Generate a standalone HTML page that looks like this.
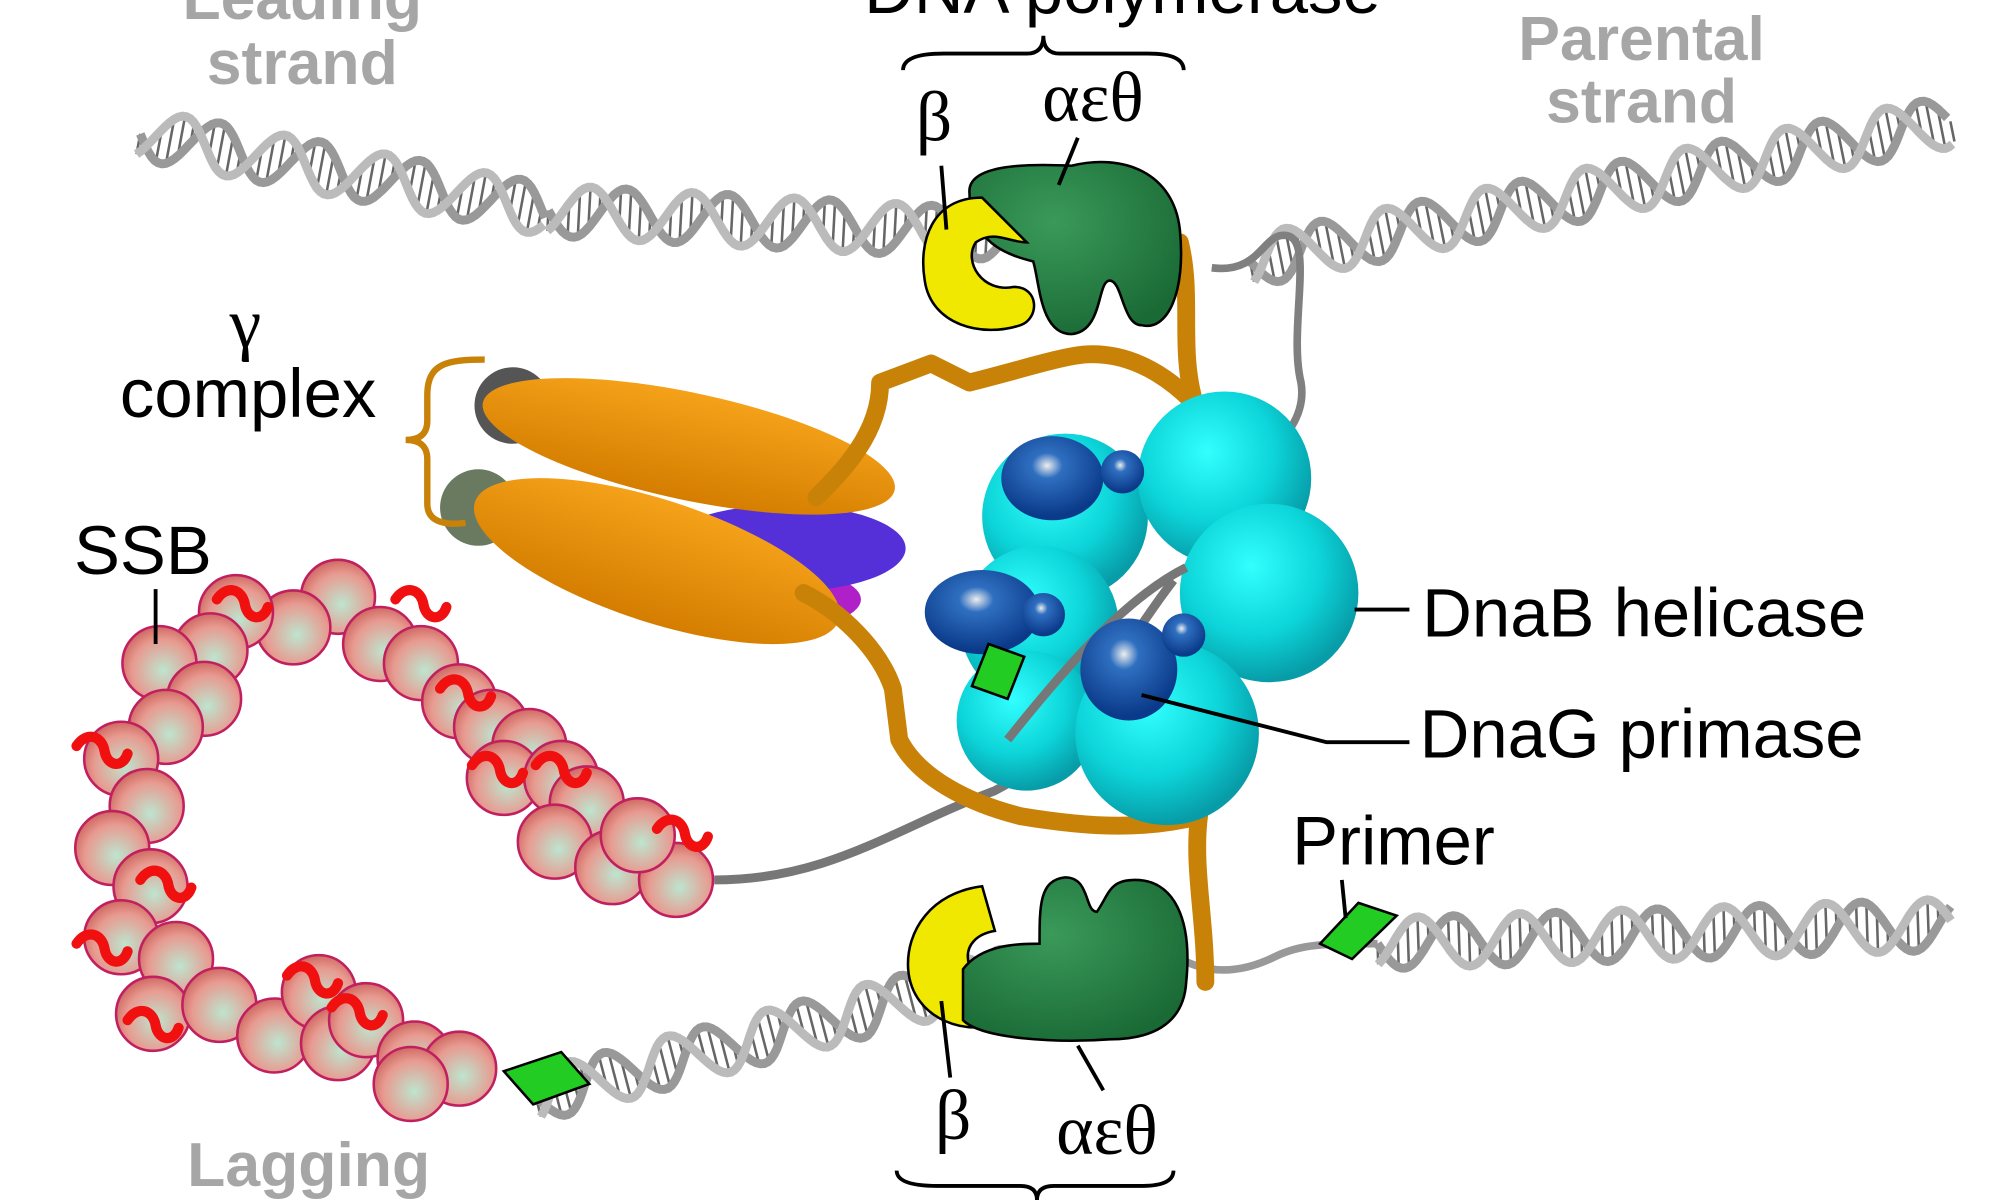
<!DOCTYPE html>
<html><head><meta charset="utf-8"><style>
html,body{margin:0;padding:0;background:#fff;width:2000px;height:1200px;overflow:hidden}
svg{display:block}
.g{font-family:"Liberation Sans",sans-serif;font-weight:bold;fill:#a6a6a6;font-size:49px;text-anchor:middle}
.b{font-family:"Liberation Sans",sans-serif;fill:#000;font-size:54px}
.s{font-family:"Liberation Serif",serif;fill:#000;font-size:56px}
</style></head><body>
<svg id="sv" width="2000" height="1200" viewBox="0 0 1568 941" preserveAspectRatio="none" xmlns="http://www.w3.org/2000/svg">
<defs>
<radialGradient id="cy" cx="40%" cy="35%" r="65%"><stop offset="0" stop-color="#3ff"/><stop offset="0.6" stop-color="#0cd4d8"/><stop offset="1" stop-color="#079ca8"/></radialGradient>
<radialGradient id="bl" cx="45%" cy="35%" r="60%"><stop offset="0" stop-color="#eee"/><stop offset="0.25" stop-color="#2f6fc0"/><stop offset="1" stop-color="#0b3a8a"/></radialGradient>
<radialGradient id="pk" cx="55%" cy="60%" r="60%"><stop offset="0" stop-color="#bde5cf"/><stop offset="0.7" stop-color="#e89a90"/><stop offset="1" stop-color="#d06a64"/></radialGradient>
<linearGradient id="or" x1="0" y1="0" x2="0" y2="1"><stop offset="0" stop-color="#f5a21a"/><stop offset="1" stop-color="#d47d00"/></linearGradient>
<radialGradient id="gr" cx="40%" cy="35%" r="70%"><stop offset="0" stop-color="#3a9a5a"/><stop offset="1" stop-color="#1a6a35"/></radialGradient>
</defs>
<g id="dna"></g>
<path d="M950,210 C990,215 990,180 1010,185 C1030,190 1010,260 1020,300 C1025,330 1000,350 990,360" stroke="#808080" stroke-width="6" fill="none"/>
<path d="M560,690 C650,690 700,650 780,620 C840,590 870,520 920,455" stroke="#777" stroke-width="7" fill="none"/>
<circle cx="402" cy="318" r="30" fill="#555"/>
<circle cx="375" cy="398" r="30" fill="#6a7a60"/>
<ellipse cx="600" cy="470" rx="75" ry="25" fill="#b020c8"/>
<ellipse cx="615" cy="430" rx="95" ry="34" fill="#5530d8"/>
<ellipse cx="540" cy="350" rx="165" ry="42" transform="rotate(12 540 350)" fill="url(#or)"/>
<ellipse cx="515" cy="440" rx="150" ry="48" transform="rotate(18 515 440)" fill="url(#or)"/>
<g stroke="#c98208" stroke-width="14" fill="none" stroke-linejoin="round" stroke-linecap="round">
<path d="M640,390 C660,370 690,340 690,300 L730,285 L760,300 C800,290 830,280 850,278 C890,275 920,300 935,315"/>
<path d="M925,190 C935,230 925,270 935,310"/>
<path d="M630,465 C660,480 690,510 700,540 L705,580 C720,610 760,630 800,640 C860,650 900,650 940,640"/>
<path d="M940,640 C935,680 945,720 945,770"/>
</g>
<g>
<circle cx="835" cy="405" r="65" fill="url(#cy)"/>
<circle cx="815" cy="490" r="62" fill="url(#cy)"/>
<circle cx="805" cy="565" r="55" fill="url(#cy)"/>
<circle cx="960" cy="375" r="68" fill="url(#cy)"/>
<circle cx="995" cy="465" r="70" fill="url(#cy)"/>
<circle cx="915" cy="575" r="72" fill="url(#cy)"/>
<path d="M790,580 C830,530 880,470 930,445" stroke="#777" stroke-width="7" fill="none"/>
</g>
<g>
<ellipse cx="825" cy="375" rx="40" ry="33" fill="url(#bl)"/><circle cx="880" cy="370" r="17" fill="url(#bl)"/>
<ellipse cx="770" cy="480" rx="45" ry="33" fill="url(#bl)"/><circle cx="818" cy="482" r="17" fill="url(#bl)"/>
<ellipse cx="885" cy="525" rx="38" ry="40" fill="url(#bl)"/><circle cx="928" cy="498" r="17" fill="url(#bl)"/>
</g>
<polygon points="775,505 803,515 790,548 762,538" fill="#2c2" stroke="#000" stroke-width="2"/>
<path d="M760,150 C760,130 800,128 840,130 C880,120 920,135 925,180 C930,230 915,260 895,255 C880,255 880,220 870,220 C860,220 865,260 840,262 C815,262 815,220 810,205 C790,200 760,190 760,150Z" fill="url(#gr)" stroke="#000" stroke-width="2"/>
<path d="M770,155 C730,155 720,190 725,220 C730,255 770,265 800,255 C815,250 815,225 795,225 C770,230 755,205 765,190 C780,180 790,190 805,190 Z" fill="#f0e800" stroke="#000" stroke-width="2"/>
<path d="M770,695 C730,700 710,730 712,760 C715,800 760,815 790,800 C810,790 800,770 775,770 C755,765 750,735 780,730 Z" fill="#f0e800" stroke="#000" stroke-width="2"/>
<path d="M755,760 C770,740 800,740 815,740 C815,710 815,690 835,688 C855,688 850,715 860,715 C870,700 870,690 890,690 C920,690 935,720 930,770 C928,805 900,815 870,815 C830,818 770,815 755,800 Z" fill="url(#gr)" stroke="#000" stroke-width="2"/>
<g id="ssb"></g>
<polygon points="395,840 440,825 462,850 418,866" fill="#2c2" stroke="#000" stroke-width="2"/>
<polygon points="1035,740 1065,708 1095,718 1060,752" fill="#2c2" stroke="#000" stroke-width="2"/>
<text class="g" x="237" y="15">Leading</text><text class="g" x="237" y="66">strand</text>
<text class="g" x="1287" y="47">Parental</text><text class="g" x="1287" y="96">strand</text>
<text class="g" x="242" y="930">Lagging</text>
<text class="b" x="880" y="10" text-anchor="middle">DNA polymerase</text>
<path d="M708,55 Q708,42 740,42 L805,42 Q818,42 818,28 Q818,42 831,42 L900,42 Q928,42 928,55" stroke="#000" stroke-width="3" fill="none"/>
<path d="M703,918 Q703,930 735,930 L800,930 Q813,930 813,941 M813,941 Q813,930 826,930 L895,930 Q920,930 920,918" stroke="#000" stroke-width="3" fill="none"/>
<text class="s" x="718" y="110">β</text><text class="s" x="817" y="95">αεθ</text>
<text class="s" x="733" y="893">β</text><text class="s" x="828" y="905">αεθ</text>
<text class="s" x="180" y="272" font-size="40">γ</text>
<text class="b" x="94" y="327" font-size="58">complex</text>
<path d="M380,282 C350,282 335,285 335,310 L335,330 Q335,345 318,345 Q335,345 335,360 L335,395 C335,410 350,412 365,410" stroke="#c98208" stroke-width="5" fill="none"/>
<text class="b" x="58" y="450">SSB</text>
<text class="b" x="1115" y="499">DnaB helicase</text>
<text class="b" x="1113" y="594">DnaG primase</text>
<text class="b" x="1013" y="678">Primer</text>
<g stroke="#000" stroke-width="3" fill="none">
<path d="M738,130 L742,180"/><path d="M845,108 L830,145"/>
<path d="M738,785 L745,845"/><path d="M845,820 L865,855"/>
<path d="M122,462 L122,505"/>
<path d="M1062,478 L1105,478"/>
<path d="M895,545 L1040,582 L1105,582"/>
<path d="M1052,690 L1055,720"/>
</g>
</svg>
<script>
(function(){
var ns="http://www.w3.org/2000/svg";
function helix(x1,y1,x2,y2,amp,per){
 var g=document.getElementById('dna');
 var dx=x2-x1,dy=y2-y1,L=Math.hypot(dx,dy),ux=dx/L,uy=dy/L,nx=-uy,ny=ux;
 var a="",b="";
 for(var t=0;t<=L;t+=3){
  var s=Math.sin(t/per*2*Math.PI)*amp;
  var px=x1+ux*t,py=y1+uy*t;
  a+=(t?"L":"M")+(px+nx*s).toFixed(1)+","+(py+ny*s).toFixed(1);
  var s2=Math.sin(t/per*2*Math.PI+2.2)*amp;
  b+=(t?"L":"M")+(px+nx*s2).toFixed(1)+","+(py+ny*s2).toFixed(1);
 }
 var r="";
 for(var t=0;t<=L;t+=per/10){
  var px=x1+ux*t,py=y1+uy*t;
  var s=Math.sin(t/per*2*Math.PI)*amp,s2=Math.sin(t/per*2*Math.PI+2.2)*amp;
  r+="M"+(px+nx*s).toFixed(1)+","+(py+ny*s).toFixed(1)+"L"+(px+nx*s2).toFixed(1)+","+(py+ny*s2).toFixed(1);
 }
 [[r,"#666",2],[a,"#999",7],[b,"#bbb",7]].forEach(function(d){
  var p=document.createElementNS(ns,"path");p.setAttribute("d",d[0]);p.setAttribute("stroke",d[1]);
  p.setAttribute("stroke-width",d[2]);p.setAttribute("fill","none");g.appendChild(p);});
}
helix(110,105,430,165,20,80);helix(430,165,900,190,20,80);
helix(980,205,1530,95,20,80);
helix(1080,740,1530,725,20,80);
helix(420,860,900,735,20,80);
var st=document.createElementNS(ns,"path");st.setAttribute("d","M900,735 C930,760 960,770 1000,750 C1020,740 1040,740 1080,740");st.setAttribute("stroke","#999");st.setAttribute("stroke-width","6");st.setAttribute("fill","none");document.getElementById('dna').appendChild(st);
var pts=[[265,468],[230,492],[185,480],[165,510],[125,520],[160,548],[130,570],[95,595],[115,632],[88,665],[118,695],[95,735],[138,752],[120,795],[172,788],[215,812],[250,778],[265,818],[287,800],[325,830],[360,838],[322,850],[298,505],[330,520],[360,550],[385,570],[415,585],[395,610],[440,610],[460,630],[435,660],[480,680],[530,690],[500,655]];
var sg=document.getElementById('ssb');
pts.forEach(function(p){var c=document.createElementNS(ns,"circle");c.setAttribute("cx",p[0]);c.setAttribute("cy",p[1]);c.setAttribute("r",29);c.setAttribute("fill","url(#pk)");c.setAttribute("stroke","#c02060");c.setAttribute("stroke-width","2");sg.appendChild(c);});
var worms=[[170,470],[310,470],[345,540],[370,600],[420,600],[515,650],[110,690],[60,740],[100,800],[225,765],[260,790],[60,585]];
worms.forEach(function(p){var w=document.createElementNS(ns,"path");w.setAttribute("d","M"+p[0]+","+p[1]+" c8,-12 20,-8 22,4 c2,12 14,14 18,2");w.setAttribute("stroke","#f01010");w.setAttribute("stroke-width","8");w.setAttribute("stroke-linecap","round");w.setAttribute("fill","none");sg.appendChild(w);});
})();
</script>
</body></html>
